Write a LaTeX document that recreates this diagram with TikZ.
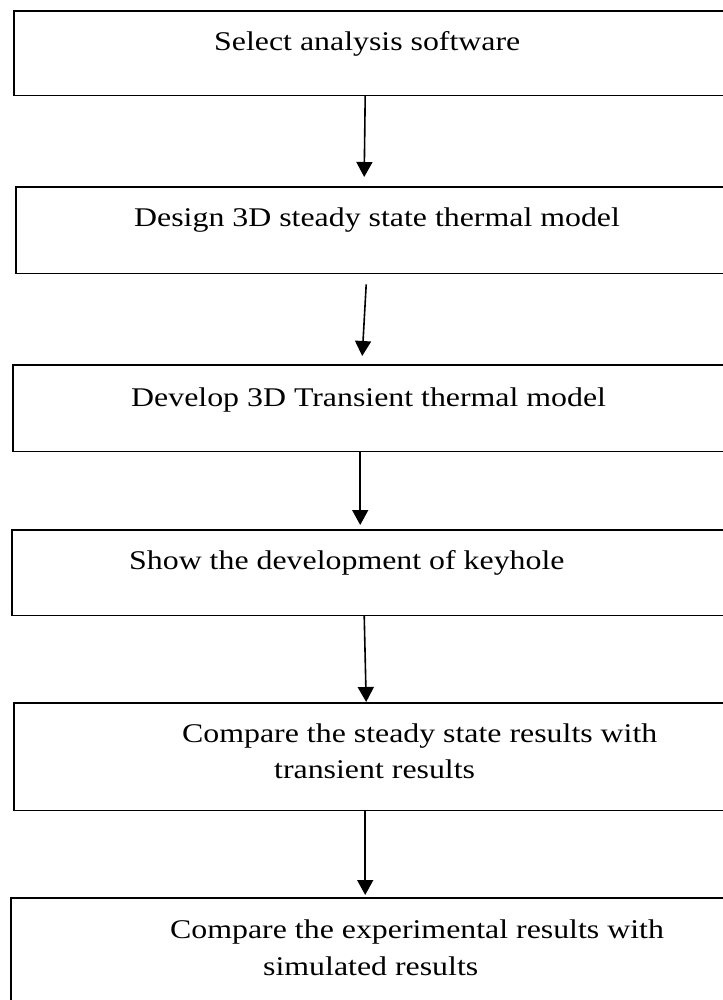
\documentclass[tikz,border=0pt]{standalone}
\usepackage{fontspec}
\setmainfont{Liberation Serif}[FakeStretch=1.18]
\usetikzlibrary{arrows.meta}
\begin{document}
\begin{tikzpicture}[x=1pt,y=-1pt,
  box/.style={draw=none,rectangle,inner sep=0pt,anchor=north west,minimum width=800pt},
  edge/.style={line width=1.6pt,line join=miter},
  lbl/.style={anchor=base west,inner sep=0pt,font=\fontsize{27}{36}\selectfont},
  arr/.style={line width=1.6pt,-{Triangle[length=15pt,width=16pt]}}]
\useasboundingbox (0,0) rectangle (722,1000);
% boxes (open on the right, cut by the page edge)
\node[box,minimum height=84pt]  (b1) at (14,11)  {};
\node[box,minimum height=86pt]  (b2) at (16,187) {};
\node[box,minimum height=86pt]  (b3) at (13,365) {};
\node[box,minimum height=85pt]  (b4) at (12,530) {};
\node[box,minimum height=107pt] (b5) at (14,703) {};
\node[box,minimum height=130pt] (b6) at (11,898) {};
\foreach \b in {b1,b2,b3,b4,b5,b6}
  \draw[edge] (\b.north east) -- (\b.north west) -- (\b.south west) -- (\b.south east);
% labels
\node[lbl] (t1)  at (214,51)  {Select analysis software};
\node[lbl] (t2)  at (134,227) {Design 3D steady state thermal model};
\node[lbl] (t3)  at (131,406) {Develop 3D Transient thermal model};
\node[lbl] (t4)  at (129,569) {Show the development of keyhole};
\node[lbl] (t5a) at (182,742) {Compare the steady state results with};
\node[lbl] (t5b) at (274,778) {transient results};
\node[lbl] (t6a) at (170,938) {Compare the experimental results with};
\node[lbl] (t6b) at (263,975) {simulated results};
% connectors
\draw[arr] ([xshift=-49pt]b1.south) -- ([xshift=-52pt,yshift=10pt]b2.north);
\draw[arr] ([xshift=-50pt,yshift=-11pt]b2.south) -- ([xshift=-51pt,yshift=9pt]b3.north);
\draw[arr] ([xshift=-53pt]b3.south) -- ([xshift=-52pt,yshift=5pt]b4.north);
\draw[arr] ([xshift=-48pt]b4.south) -- ([xshift=-48pt,yshift=1pt]b5.north);
\draw[arr] ([xshift=-49pt]b5.south) -- ([xshift=-46pt,yshift=3pt]b6.north);
\end{tikzpicture}
\end{document}
